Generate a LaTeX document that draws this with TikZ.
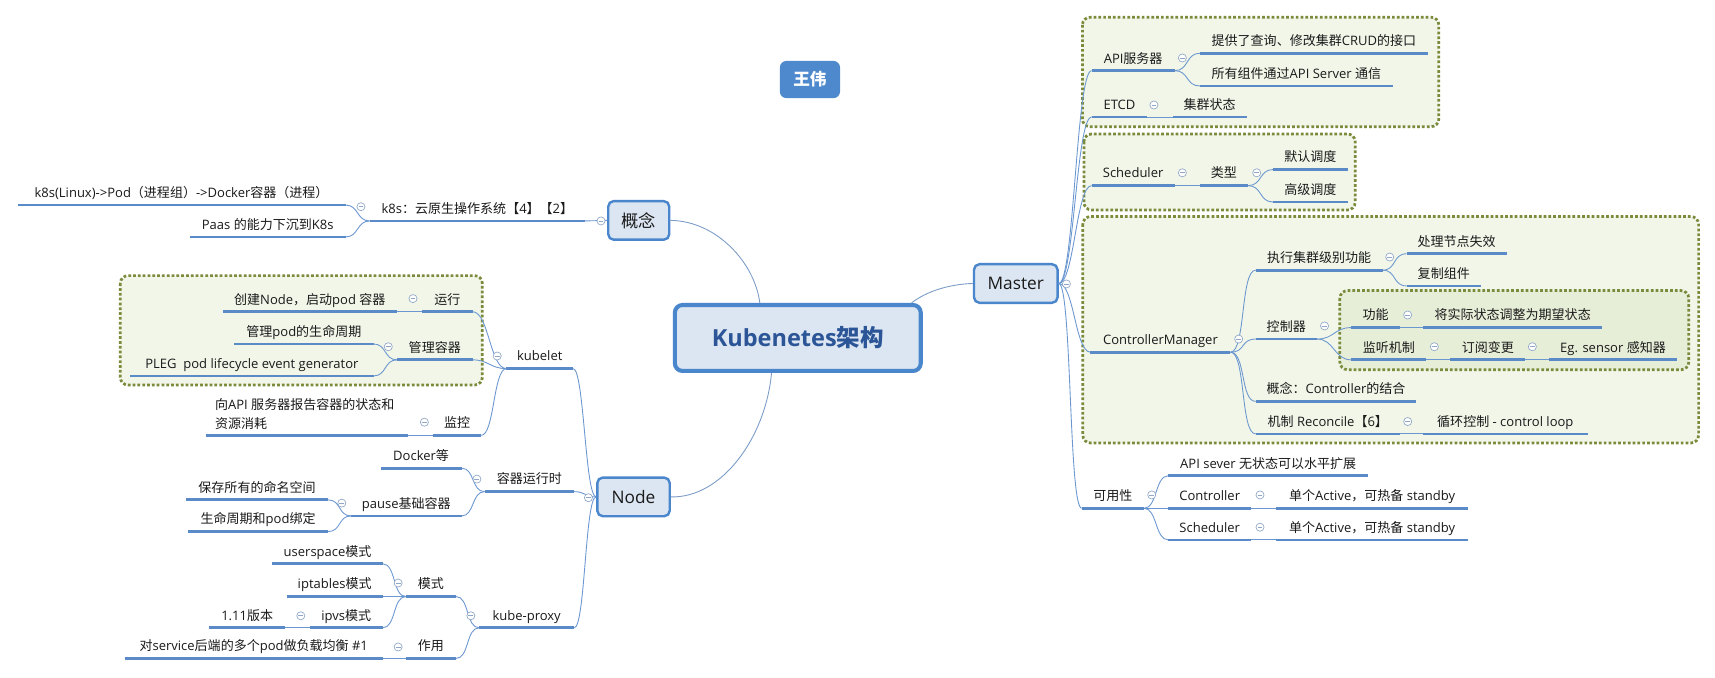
\documentclass[tikz,border=0pt]{standalone}
\usepackage{fontspec}
\setmainfont{Open Sans}
\newfontfamily\cjkf{Noto Sans CJK SC}
\XeTeXinterchartokenstate=1
\newXeTeXintercharclass\cjkcls
\newcount\kc
\def\setcls#1#2{\kc=#1\relax\loop\XeTeXcharclass\kc=\cjkcls\advance\kc by 1\relax\ifnum\kc<#2\relax\repeat}
\setcls{"3000}{"3040}
\setcls{"4E00}{"A000}
\setcls{"FF00}{"FFF0}
\XeTeXinterchartoks 0 \cjkcls = {\cjkf}
\XeTeXinterchartoks 4095 \cjkcls = {\cjkf}
\XeTeXinterchartoks \cjkcls 0 = {\rmfamily}
\XeTeXinterchartoks \cjkcls 4095 = {\rmfamily}
\usetikzlibrary{calc}
\definecolor{ul}{HTML}{5A8AC8}
\definecolor{cn}{HTML}{6B97D0}
\definecolor{rc}{HTML}{7C9CC8}
\definecolor{bxb}{HTML}{4A86CB}
\definecolor{bxf}{HTML}{DCE6F2}
\definecolor{ttl}{HTML}{2B5597}
\definecolor{grpb}{HTML}{7A8B3C}
\definecolor{grpf}{HTML}{F1F6E9}
\definecolor{grpf2}{HTML}{E6EED8}
\definecolor{mn}{HTML}{8FA6C6}
\definecolor{txt}{HTML}{1A1A1A}
\definecolor{auth}{HTML}{4F89CD}
\tikzset{
  uline/.style={draw=ul, line width=2.5pt},
  conn/.style={draw=cn, line width=0.8pt},
  rootc/.style={draw=rc, line width=0.8pt},
  topic/.style={inner sep=0pt, text=txt, font=\fontsize{11.9}{17}\selectfont},
  minus/.style={circle, draw=mn, fill=white, line width=0.6pt, minimum size=7.4pt, inner sep=0pt,
    path picture={\draw[mn, line width=0.7pt] ([xshift=-2.2pt]path picture bounding box.center) -- ([xshift=2.2pt]path picture bounding box.center);}},
  grp/.style={draw=grpb, fill=grpf, line width=2.5pt, dash pattern=on 2.5pt off 1.9pt, rounded corners=7pt},
  rb/.style={to path={.. controls ([xshift=#1]\tikztostart) and ([xshift=-#1]\tikztotarget) .. (\tikztotarget)}},
  lb/.style={to path={.. controls ([xshift=-#1]\tikztostart) and ([xshift=#1]\tikztotarget) .. (\tikztotarget)}},
  rb/.default=10pt, lb/.default=10pt,
  mainbox/.style={rectangle, rounded corners=7pt, draw=bxb, fill=bxf, line width=3.7pt,
    minimum width=224.8pt, minimum height=60.3pt, inner sep=0pt, text=ttl,
    font=\fontsize{21.5}{26}\selectfont\bfseries},
  subbox/.style={rectangle, rounded corners=5pt, draw=bxb, fill=bxf, line width=2.2pt,
    minimum height=35.3pt, inner sep=0pt, text=txt, font=\fontsize{15.8}{19}\selectfont},
  authbox/.style={rectangle, rounded corners=6pt, fill=auth, minimum width=55pt, minimum height=34pt,
    inner sep=0pt, text=white, font=\fontsize{15.2}{18}\selectfont\bfseries}
}
\newcommand{\kTopic}[5]{%
  \coordinate (#1L) at (#2,#4);
  \coordinate (#1R) at (#3,#4);
  \draw[uline] (#1L) -- (#1R);
  \node[topic, anchor=base] (#1) at ({(#2+#3)/2},{#4-7}) {#5};}
\newcommand{\kMin}[3]{\node[minus] (#1) at (#2,#3) {};}
\begin{document}
\begin{tikzpicture}[x=1pt,y=-1pt]
\useasboundingbox (0,0) rectangle (1568,619);
\fill[white] (0,0) rectangle (1568,619);
% ---- group boundaries
\draw[grp] (989.6,15.8) rectangle (1315.5,115.8);
\draw[grp] (991,122.5) rectangle (1239,192);
\draw[grp] (990,198) rectangle (1553,405);
\draw[grp, fill=grpf2] (1225,265.7) rectangle (1544,338);
\draw[grp] (110,252) rectangle (441,352);
% ---- central and main topics
\node[mainbox] (main) at (729.4,309) {Kubenetes架构};
\node[authbox] (author) at (740.5,72.7) {王伟};
\node[subbox, minimum width=55.8pt] (gn) at (584,201.5) {概念};
\node[subbox, minimum width=76.4pt] (master) at (928.7,259.2) {Master};
\node[subbox, minimum width=66.2pt] (nd) at (579.2,454.3) {Node};
\draw[rootc] ([xshift=-34.7pt]main.north) .. controls (690,240) and (655,202) .. (gn.east);
\draw[rootc] ([xshift=104pt]main.north) .. controls (847.4,265.8) and (870,259.6) .. (master.west);
\draw[rootc] ([xshift=-24pt]main.south) .. controls (700,400) and (660,455.5) .. (nd.east);
% ---- Master subtree
\kTopic{api}{998}{1074}{64.6}{API服务器}
\kTopic{crud}{1097}{1305.5}{48.7}{提供了查询、修改集群CRUD的接口}
\kTopic{comm}{1097}{1273.5}{78.6}{所有组件通过API Server 通信}
\kTopic{etcd}{998}{1049}{107}{ETCD}
\kTopic{state}{1072}{1140}{107}{集群状态}
\kTopic{sch}{998}{1074}{169.7}{Scheduler}
\kTopic{type}{1097}{1141}{169.7}{类型}
\kTopic{dflt}{1164}{1232}{155}{默认调度}
\kTopic{adv}{1164}{1232}{184.7}{高级调度}
\kTopic{cm}{997}{1125}{322}{ControllerManager}
\kTopic{exec}{1148}{1264}{247}{执行集群级别功能}
\kTopic{fail}{1286}{1377.5}{232}{处理节点失效}
\kTopic{repl}{1286}{1354}{261.4}{复制组件}
\kTopic{ctl}{1148}{1204}{310}{控制器}
\kTopic{func}{1235.5}{1280}{299.5}{功能}
\kTopic{adj}{1301}{1465}{299.5}{将实际状态调整为期望状态}
\kTopic{watch}{1235.5}{1304}{329}{监听机制}
\kTopic{sub}{1326}{1394.6}{329}{订阅变更}
\kTopic{sens}{1416.5}{1533}{329}{Eg. sensor 感知器}
\kTopic{cctl}{1148}{1295}{367}{概念：Controller的结合}
\kTopic{rec}{1148}{1280}{396.7}{机制 Reconcile【6】}
\kTopic{loop}{1301}{1451.6}{396.7}{循环控制 - control loop}
\kTopic{avail}{989}{1046}{464.7}{可用性}
\kTopic{apis}{1068}{1251}{435}{API sever 无状态可以水平扩展}
\kTopic{actl}{1068}{1144}{464.7}{Controller}
\kTopic{actla}{1167}{1342}{464.7}{单个Active，可热备 standby}
\kTopic{asch}{1068}{1144}{493.6}{Scheduler}
\kTopic{ascha}{1167}{1342}{493.6}{单个Active，可热备 standby}
\draw[conn] (master.east) to[rb=14pt] (apiL);
\draw[conn] (master.east) to[rb=14pt] (etcdL);
\draw[conn] (master.east) to[rb=14pt] (schL);
\draw[conn] (master.east) to[rb=14pt] (cmL);
\draw[conn] (master.east) to[rb=12pt] (availL);
\draw[conn] (apiR) to[rb=13pt] (crudL);
\draw[conn] (apiR) to[rb=13pt] (commL);
\draw[conn] (etcdR) to (stateL);
\draw[conn] (schR) to (typeL);
\draw[conn] (typeR) to[rb=13pt] (dfltL);
\draw[conn] (typeR) to[rb=13pt] (advL);
\draw[conn] (cmR) to[rb=14pt] (execL);
\draw[conn] (cmR) to[rb=14pt] (ctlL);
\draw[conn] (cmR) to[rb=14pt] (cctlL);
\draw[conn] (cmR) to[rb=14pt] (recL);
\draw[conn] (execR) to[rb=13pt] (failL);
\draw[conn] (execR) to[rb=13pt] (replL);
\draw[conn] (ctlR) to[rb=16pt] (funcL);
\draw[conn] (ctlR) to[rb=16pt] (watchL);
\draw[conn] (funcR) to (adjL);
\draw[conn] (watchR) to (subL);
\draw[conn] (subR) to (sensL);
\draw[conn] (recR) to (loopL);
\draw[conn] (availR) to[rb=12pt] (apisL);
\draw[conn] (availR) to[rb=12pt] (actlL);
\draw[conn] (availR) to[rb=12pt] (aschL);
\draw[conn] (actlR) to (actlaL);
\draw[conn] (aschR) to (aschaL);
% ---- concept subtree
\kTopic{k8s}{338}{535}{202}{k8s：云原生操作系统【4】【2】}
\kTopic{linux}{16}{316}{187.5}{k8s(Linux)->Pod（进程组）->Docker容器（进程）}
\kTopic{paas}{173.5}{316}{216.6}{Paas 的能力下沉到K8s}
\draw[conn] (gn.west) to (k8sR);
\draw[conn] (k8sL) to[lb=12pt] (linuxR);
\draw[conn] (k8sL) to[lb=12pt] (paasR);
% ---- Node subtree
\kTopic{kubelet}{463}{524}{337}{kubelet}
\kTopic{run}{386}{432}{285}{运行}
\kTopic{create}{203.5}{363}{285}{创建Node，启动pod 容器}
\kTopic{mgr}{363}{432}{329}{管理容器}
\kTopic{life}{214}{341.6}{314.5}{管理pod的生命周期}
\kTopic{pleg}{119}{341.6}{343.7}{PLEG\ \ pod lifecycle event generator}
\kTopic{mon}{396}{440}{398}{监控}
\coordinate (reportL) at (188,398);
\coordinate (reportR) at (373,398);
\draw[uline] (reportL) -- (reportR);
\node[topic, align=left, anchor=base west] (report) at (196.5,391.5) {向API 服务器报告容器的状态和\\资源消耗};
\kTopic{crt}{443}{525}{449.5}{容器运行时}
\kTopic{docker}{348}{422}{428}{Docker等}
\kTopic{pause}{321}{422}{471.7}{pause基础容器}
\kTopic{ns}{170}{300}{457}{保存所有的命名空间}
\kTopic{bind}{172}{300}{486}{生命周期和pod绑定}
\kTopic{kp}{438}{525}{574}{kube-proxy}
\kTopic{mode}{371}{417}{545.4}{模式}
\kTopic{user}{249}{350}{515.5}{userspace模式}
\kTopic{ipt}{262}{350}{545.4}{iptables模式}
\kTopic{ipvs}{283}{350}{574}{ipvs模式}
\kTopic{ver}{191}{261}{574}{1.11版本}
\kTopic{use}{371}{417}{602}{作用}
\kTopic{lbal}{114}{350}{602}{对service后端的多个pod做负载均衡 \#1}
\draw[conn] (nd.west) to[lb=10pt] (kubeletR);
\draw[conn] (nd.west) to[lb=10pt] (crtR);
\draw[conn] (nd.west) to[lb=10pt] (kpR);
\draw[conn] (kubeletL) to[lb=15pt] (runR);
\draw[conn] (kubeletL) to[lb=15pt] (mgrR);
\draw[conn] (kubeletL) to[lb=12pt] (monR);
\draw[conn] (runL) to (createR);
\draw[conn] (mgrL) to[lb=12pt] (lifeR);
\draw[conn] (mgrL) to[lb=12pt] (plegR);
\draw[conn] (monL) to (reportR);
\draw[conn] (crtL) to[lb=12pt] (dockerR);
\draw[conn] (crtL) to[lb=12pt] (pauseR);
\draw[conn] (pauseL) to[lb=12pt] (nsR);
\draw[conn] (pauseL) to[lb=12pt] (bindR);
\draw[conn] (kpL) to[lb=12pt] (modeR);
\draw[conn] (kpL) to[lb=12pt] (useR);
\draw[conn] (modeL) to[lb=12pt] (userR);
\draw[conn] (modeL) to[lb=12pt] (iptR);
\draw[conn] (modeL) to[lb=12pt] (ipvsR);
\draw[conn] (ipvsL) to (verR);
\draw[conn] (useL) to (lbalR);
% ---- collapse markers
\kMin{mMaster}{975}{259.6}
\kMin{mGn}{549.5}{202}
\kMin{mNode}{538}{455}
\kMin{mApi}{1081}{53}
\kMin{mEtcd}{1055}{96}
\kMin{mSch}{1081}{158}
\kMin{mType}{1149}{158}
\kMin{mCm}{1132.5}{310}
\kMin{mExec}{1270.6}{235}
\kMin{mCtl}{1211}{298}
\kMin{mFunc}{1287}{288}
\kMin{mWatch}{1311.4}{317}
\kMin{mSub}{1401}{317}
\kMin{mRec}{1287}{385.4}
\kMin{mAvail}{1053}{452.5}
\kMin{mActl}{1152}{452.5}
\kMin{mAsch}{1152}{482}
\kMin{mK8s}{330}{189}
\kMin{mKubelet}{454.6}{325.5}
\kMin{mRun}{377.6}{273}
\kMin{mMgr}{355}{317}
\kMin{mMon}{388}{386}
\kMin{mCrt}{436}{438}
\kMin{mPause}{312.5}{460}
\kMin{mKp}{430.5}{563}
\kMin{mMode}{364}{533}
\kMin{mIpvs}{275}{563}
\kMin{mUse}{364}{591.5}
\end{tikzpicture}
\end{document}
